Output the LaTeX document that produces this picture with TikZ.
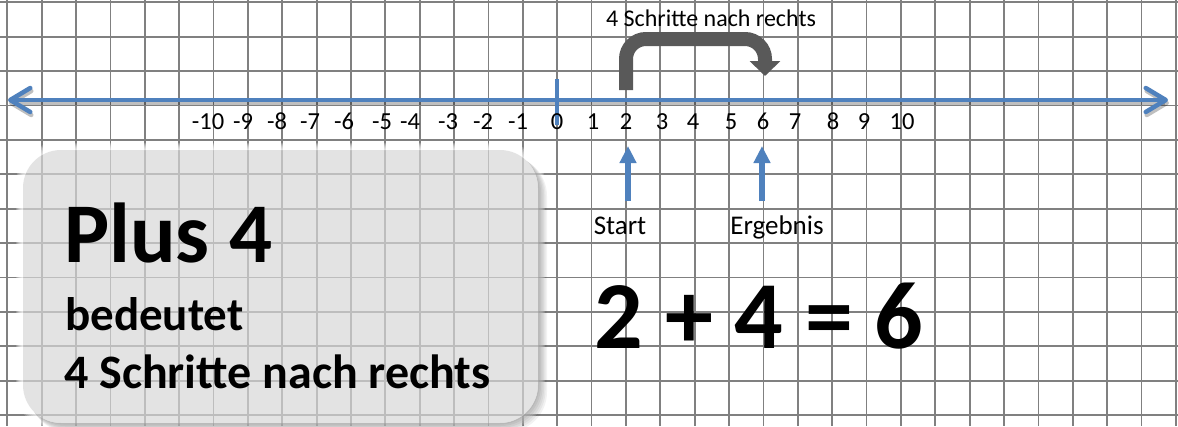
\documentclass[tikz,border=0pt]{standalone}
\usepackage{fontspec}
\setmainfont{Carlito}
\usetikzlibrary{arrows.meta}
\definecolor{gridgray}{HTML}{808080}
\definecolor{lineblue}{HTML}{4F81BD}
\definecolor{arrowgray}{HTML}{595959}
\definecolor{boxgray}{HTML}{D8D8D8}
\begin{document}
\begin{tikzpicture}[x=1pt,y=-1pt,
  gridline/.style={draw=gridgray,line width=1.8pt},
  num/.style={anchor=base,inner sep=0pt,font=\fontsize{24.5}{26}\selectfont},
  smalllbl/.style={anchor=base,inner sep=0pt,font=\fontsize{#1}{#1}\selectfont},
  numline/.style={line width=4.5pt,{Straight Barb[length=20pt,width=24pt,round]}-{Straight Barb[length=20pt,width=24pt,round]}},
  uparrow/.style={draw=lineblue,line width=6pt,-{Triangle[width=16pt,length=17pt]}},
  bentarrow/.style={draw=arrowgray,line width=14pt,rounded corners=20pt,-{Triangle[width=30pt,length=15pt]}},
  boxtext/.style={anchor=base west,inner sep=0pt,font=\bfseries\fontsize{#1}{#1}\selectfont}]
\fill[white] (0,0) rectangle (1178,426);
\useasboundingbox (0,0) rectangle (1178,426);
% grid
\foreach \i in {0,...,34} \draw[gridline] ({7.3+34.37*\i},0) -- ({7.3+34.37*\i},426);
\foreach \j in {0,...,12} \draw[gridline] (0,{2.3+34.4*\j}) -- (1178,{2.3+34.4*\j});
% box glow and shadow, outside the box only
\begin{scope}[even odd rule,rounded corners=38pt]
\clip (-100,-100) rectangle (1290,540) (23,150) rectangle (538,423);
\foreach \k in {1,...,7} \fill[white,opacity=0.2,rounded corners=40pt] ({23-\k},{150-\k}) rectangle ({538+\k},{423+\k});
\foreach \k in {1,...,6} \fill[black,opacity=0.05,rounded corners=40pt] ({23+\k},{150+\k}) rectangle ({538+1.5*\k},{423+1.5*\k});
\end{scope}
\fill[boxgray,opacity=0.7,rounded corners=38pt] (23,150) rectangle (538,423);
% box text
\node[boxtext=85] (plus) at (64,262) {Plus 4};
\node[boxtext=47] (bed) at (65,330) {bedeutet};
\node[boxtext=48] (schr) at (64,388) {4 Schritte nach rechts};
% number line
\coordinate (L) at (8,100);
\coordinate (R) at (1168,100);
\draw[numline,black,opacity=0.25,transform canvas={shift={(1pt,-3pt)}}] (L) -- (R);
\draw[numline,lineblue] (L) -- (R);
\coordinate (t0a) at (557,79);
\coordinate (t0b) at (557,125);
\draw[lineblue,line width=4pt] (t0a) -- (t0b);
% numbers
\foreach \v/\x in {-10/208,-9/243,-8/277,-7/310,-6/344,-5/382,-4/410,-3/448,-2/483,-1/518,0/557,1/593,2/626,3/662,4/693,5/731,6/763,7/795,8/833,9/864,10/902}
  \node[num] (n\v) at (\x,129) {\v};
% bent arrow
\coordinate (b1) at (626,90);
\coordinate (b2) at (765,76);
\draw[bentarrow] (b1) |- (765,39) -- (b2);
\node[smalllbl=24] (top) at (711,26) {4 Schritte nach rechts};
% up arrows
\coordinate (s1) at (628,201);
\coordinate (s2) at (628,146);
\coordinate (e1) at (762,201);
\coordinate (e2) at (762,146);
\draw[uparrow] (s1) -- (s2);
\draw[uparrow] (e1) -- (e2);
\node[smalllbl=27] (start) at (620,234) {Start};
\node[smalllbl=27] (erg) at (777,234) {Ergebnis};
% equation
\node[anchor=base,inner sep=0pt,font=\bfseries\fontsize{96}{96}\selectfont] (eq) at (759,348) {2 + 4 = 6};
\end{tikzpicture}
\end{document}
